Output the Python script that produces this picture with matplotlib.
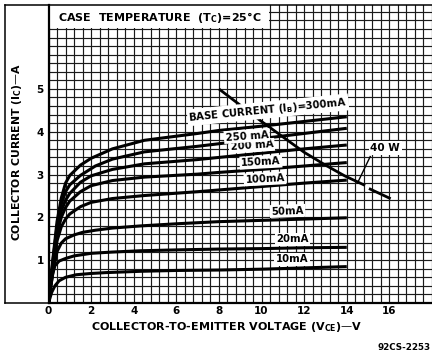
import numpy as np
import matplotlib.pyplot as plt
from matplotlib.ticker import MultipleLocator
from matplotlib.lines import Line2D
from matplotlib.patches import Rectangle

plt.rcParams['font.family'] = ['DejaVu Sans']
plt.rcParams['mathtext.fontset'] = 'dejavusans'

# collector characteristics (V_CE in V, I_C in A)
v_300 = [0, 0.2, 0.4, 0.6, 0.8, 1.0, 1.5, 2.0, 3.0, 4.5, 7.0, 8.0, 10.0, 12.0, 14.0]
i_300 = [0, 1.0, 1.9, 2.45, 2.8, 2.98, 3.22, 3.38, 3.6, 3.8, 3.96, 4.03, 4.13, 4.24, 4.35]
v_250 = [0, 0.2, 0.4, 0.6, 0.8, 1.0, 1.5, 2.2, 3.0, 4.5, 7.0, 8.0, 10.0, 12.0, 14.0]
i_250 = [0, 0.95, 1.8, 2.3, 2.6, 2.76, 2.98, 3.2, 3.36, 3.53, 3.66, 3.72, 3.84, 3.96, 4.08]
v_200 = [0, 0.2, 0.4, 0.6, 0.8, 1.0, 1.5, 2.0, 3.0, 4.5, 7.0, 8.0, 10.0, 12.0, 14.0]
i_200 = [0, 0.9, 1.7, 2.15, 2.4, 2.56, 2.82, 2.97, 3.12, 3.25, 3.35, 3.40, 3.50, 3.60, 3.69]
v_150 = [0, 0.2, 0.4, 0.6, 0.8, 1.0, 1.5, 2.0, 3.0, 4.5, 7.0, 8.0, 10.0, 12.0, 14.0]
i_150 = [0, 0.85, 1.6, 2.0, 2.23, 2.38, 2.6, 2.74, 2.86, 2.94, 3.01, 3.05, 3.12, 3.2, 3.28]
v_100 = [0, 0.2, 0.4, 0.6, 0.8, 1.0, 1.5, 2.0, 3.0, 4.5, 7.0, 8.0, 10.0, 12.0, 14.0]
i_100 = [0, 0.8, 1.45, 1.78, 1.96, 2.08, 2.25, 2.35, 2.44, 2.51, 2.6, 2.64, 2.72, 2.8, 2.87]
v_50 = [0, 0.2, 0.4, 0.6, 0.8, 1.2, 1.6, 2.2, 3.0, 4.3, 6.0, 8.0, 10.0, 12.0, 14.0]
i_50 = [0, 0.7, 1.2, 1.4, 1.5, 1.59, 1.65, 1.7, 1.75, 1.8, 1.85, 1.9, 1.93, 1.96, 1.99]
v_20 = [0, 0.1, 0.2, 0.3, 0.5, 0.8, 1.2, 2.0, 3.0, 4.3, 6.0, 8.0, 10.0, 12.0, 14.0]
i_20 = [0, 0.38, 0.68, 0.87, 0.98, 1.04, 1.1, 1.16, 1.19, 1.22, 1.24, 1.26, 1.27, 1.29, 1.30]
v_10 = [0, 0.15, 0.3, 0.5, 0.8, 1.3, 2.0, 2.7, 4.3, 6.0, 8.0, 10.0, 12.0, 14.0]
i_10 = [0, 0.25, 0.4, 0.52, 0.6, 0.66, 0.69, 0.71, 0.74, 0.76, 0.77, 0.79, 0.82, 0.85]

# 40 W dissipation line (two pieces, gap at the pointer)
v_40w_a = [8.05, 9.0, 10.0, 11.0, 12.0, 13.0, 13.9, 14.8]
i_40w_a = [4.98, 4.62, 4.24, 3.88, 3.52, 3.22, 2.97, 2.76]
v_40w_b = [15.1, 16.0]
i_40w_b = [2.66, 2.45]

curves = [(v_10, i_10), (v_20, i_20), (v_50, i_50), (v_100, i_100),
          (v_150, i_150), (v_200, i_200), (v_250, i_250), (v_300, i_300)]

# labels on the curves: text, x, y, rotation
curve_labels = [
    ("10mA", 11.43, 1.02, 0),
    ("20mA", 11.46, 1.49, 0),
    ("50mA", 11.22, 2.15, 2),
    ("100mA", 10.16, 2.90, 3),
    ("150mA", 9.97, 3.29, 3),
    ("200 mA", 9.54, 3.67, 4),
    ("250 mA", 9.31, 3.90, 4),
    ("BASE CURRENT (I$_\\mathbf{B}$)=300mA", 10.3, 4.51, 5.7),
]

x_ticks = [0, 2, 4, 6, 8, 10, 12, 14, 16]
y_ticks = [1, 2, 3, 4, 5]

W, H = 432, 354


def fx(px):
    return px / W


def fy(py):
    return 1 - py / H


fig = plt.figure(figsize=(W / 100, H / 100), dpi=100)
ax = fig.add_axes([fx(48.5), fy(303), (W - 48.5) / W, (303 - 5) / H])
ax.set_xlim(0, 18.0)
ax.set_ylim(0, 6.96)

# graph paper grid
ax.xaxis.set_minor_locator(MultipleLocator(0.4))
ax.yaxis.set_minor_locator(MultipleLocator(0.2))
ax.set_xticks(x_ticks)
ax.set_yticks(y_ticks)
ax.set_axisbelow(True)
ax.grid(which='both', color='#1a1a1a', lw=0.85)
ax.tick_params(which='both', length=0)
ax.tick_params(axis='x', labelsize=7.5, pad=2.5)
ax.tick_params(axis='y', labelsize=7.5, pad=3.5)
for lab in ax.get_xticklabels() + ax.get_yticklabels():
    lab.set_fontweight('bold')

for s in ['left', 'bottom']:
    ax.spines[s].set_linewidth(1.6)
ax.spines['top'].set_linewidth(1.1)
ax.spines['right'].set_visible(False)

# title box at top-left of the grid
ax.add_patch(Rectangle((0, 6.415), 10.37, 0.6, facecolor='white', edgecolor='none', zorder=1))
ax.text(0.45, 6.66, "CASE  TEMPERATURE  (T$_\\mathbf{C}$)=25°C", fontsize=8,
        fontweight='bold', va='center', ha='left', zorder=4)

for v, i in curves:
    ax.plot(v, i, color='black', lw=2.2, solid_capstyle='butt', zorder=2)

ax.plot(v_40w_a, i_40w_a, color='black', lw=2.0, zorder=2)
ax.plot(v_40w_b, i_40w_b, color='black', lw=2.0, zorder=2)
ax.plot([14.5, 15.1], [2.8, 3.42], color='black', lw=1.0, zorder=2)
ax.text(15.8, 3.62, "40 W", fontsize=7.5, fontweight='bold', ha='center', va='center',
        zorder=4, bbox=dict(facecolor='white', edgecolor='none', pad=1.2))

for txt, x, y, rot in curve_labels:
    ax.text(x, y, txt, fontsize=7.3, fontweight='bold', ha='center', va='center',
            rotation=rot, rotation_mode='anchor', zorder=4,
            bbox=dict(facecolor='white', edgecolor='none', pad=1.0))

# outer frame around the left margin
for (x0, y0, x1, y1) in [(5, 5, 48.5, 5), (5, 5, 5, 303), (5, 303, 48.5, 303)]:
    fig.add_artist(Line2D([fx(x0), fx(x1)], [fy(y0), fy(y1)], color='black', lw=1.1))

fig.text(fx(17), fy(152), "COLLECTOR CURRENT (I$_\\mathbf{C}$)—A", rotation=90,
         fontsize=7.8, fontweight='bold', ha='center', va='center')
fig.text(fx(227), fy(327), "COLLECTOR-TO-EMITTER VOLTAGE (V$_\\mathbf{CE}$)—V",
         fontsize=8, fontweight='bold', ha='center', va='center')
fig.text(fx(431), fy(348), "92CS-2253", fontsize=6.3, fontweight='bold',
         ha='right', va='center')

fig.savefig('out.png', dpi=100)
